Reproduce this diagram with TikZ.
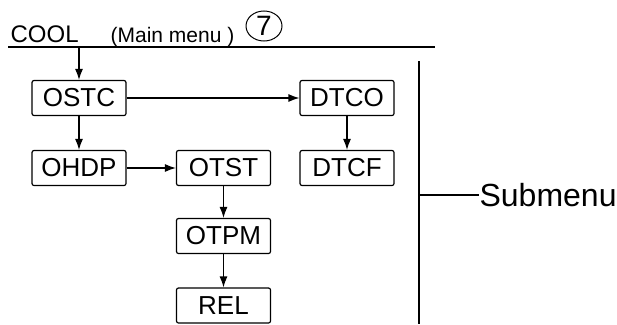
\documentclass[tikz,border=0pt]{standalone}
\usepackage{fontspec}
\setmainfont{Liberation Sans}
\usetikzlibrary{arrows.meta,positioning,shapes.geometric}

\begin{document}
\begin{tikzpicture}[x=1pt,y=-1pt,>={Latex[length=11pt,width=8pt]},line width=1.2pt,
  menubox/.style={draw,rounded corners=2pt,minimum width=94pt,minimum height=35pt,inner sep=0pt,font=\fontsize{26}{26}\selectfont}]
\useasboundingbox (0,0) rectangle (617,324);
\node [anchor=base west,inner sep=0pt,font=\fontsize{24}{24}\selectfont] (cool) at (10,42) {COOL};
\node [anchor=base west,inner sep=0pt,font=\fontsize{21}{21}\selectfont] (mainmenu) at (110,42) {(Main menu )};
\node [draw,ellipse,line width=1pt,minimum width=36pt,minimum height=30pt,inner sep=0pt,font=\fontsize{28}{28}\selectfont] (seven) at (264,26) {7};
\coordinate (lineL) at (8,47);
\coordinate (lineR) at (435,47);
\coordinate (stem) at (79,47);
\draw (lineL) -- (lineR);
\node [menubox] (ostc) at (79,98) {OSTC};
\node [menubox] (dtco) at (347,98) {DTCO};
\node [menubox] (ohdp) at (79,168) {OHDP};
\node [menubox] (otst) at (223.5,168) {OTST};
\node [menubox] (dtcf) at (347,168) {DTCF};
\node [menubox] (otpm) at (223.5,236) {OTPM};
\node [menubox] (rel) at (223.5,305.5) {REL};
\draw [->] (stem) -- (ostc.north);
\draw [->] (ostc) -- (dtco);
\draw [->] (ostc) -- (ohdp);
\draw [->] (ohdp) -- (otst);
\draw [->] (dtco) -- (dtcf);
\draw [->] (otst) -- (otpm);
\draw [->] (otpm) -- (rel);
\coordinate (barT) at (419,61);
\coordinate (barB) at (419,324);
\coordinate (barM) at (419,195);
\draw (barT) -- (barB);
\node [anchor=west,inner sep=0pt,font=\fontsize{32}{32}\selectfont] (submenu) at (479,195) {Submenu};
\draw (barM) -- (submenu.west);
\end{tikzpicture}
\end{document}
